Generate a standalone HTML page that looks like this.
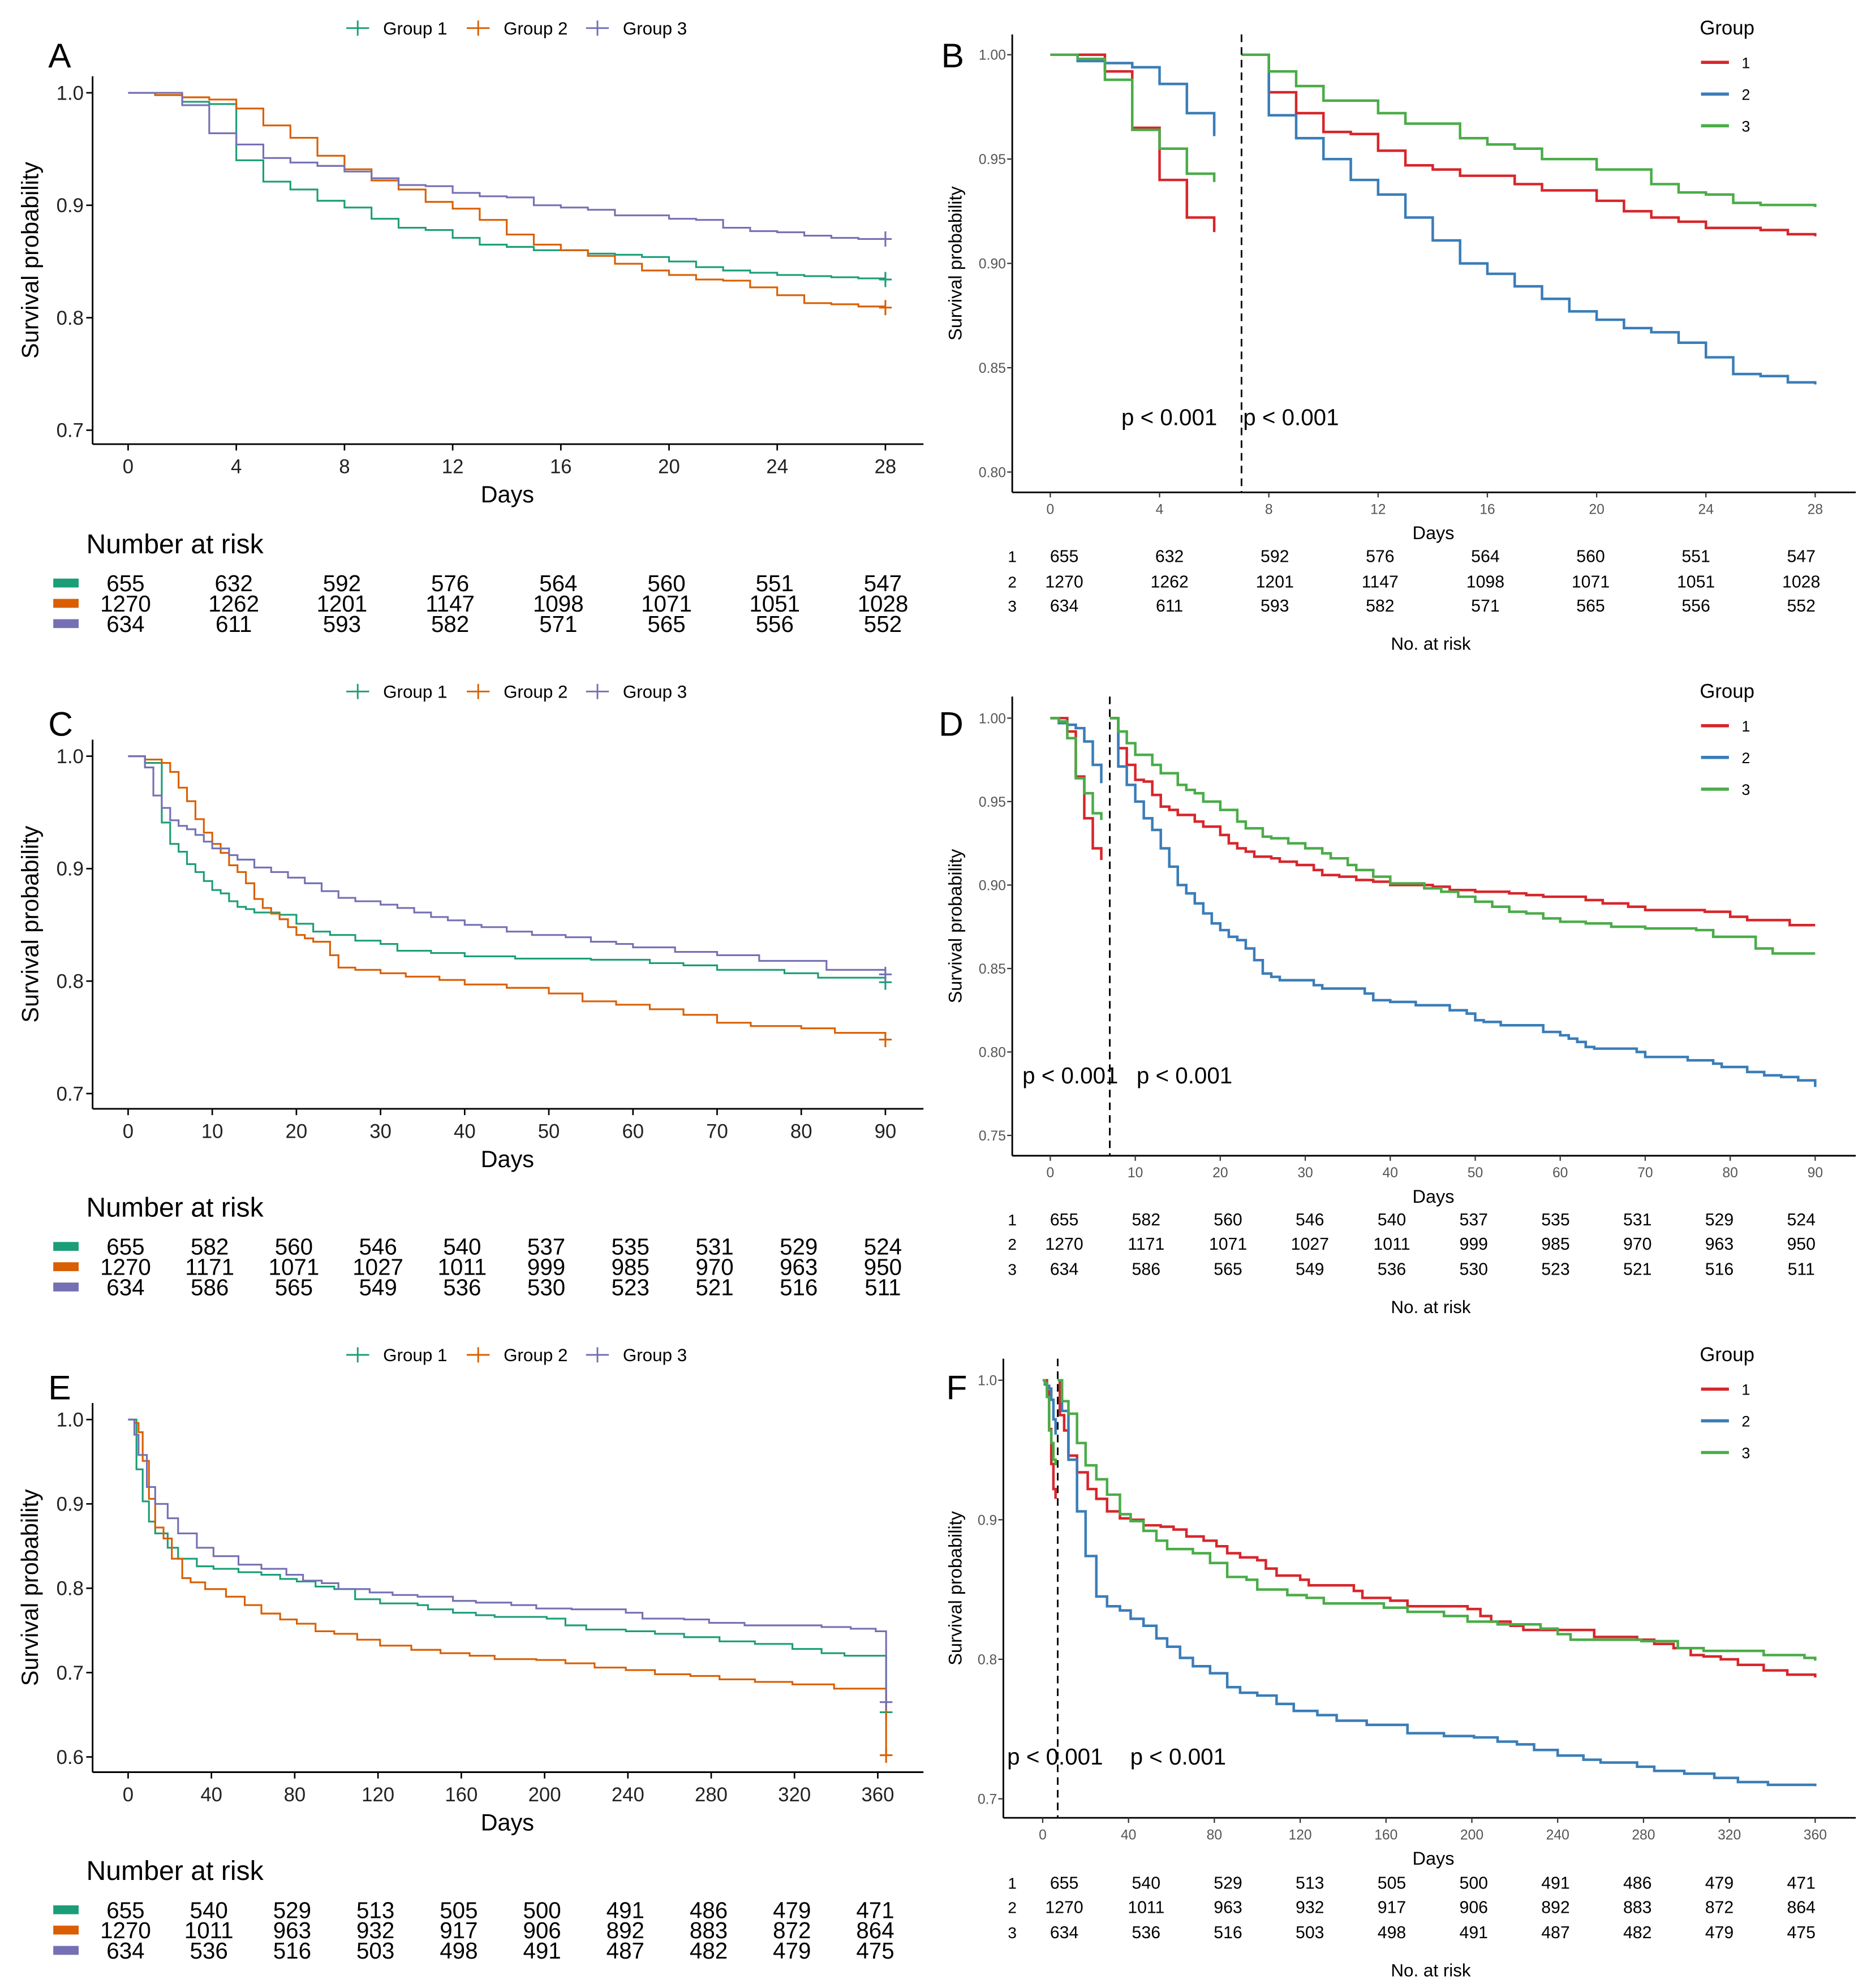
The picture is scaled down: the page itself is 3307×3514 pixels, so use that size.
<!DOCTYPE html>
<html><head><meta charset="utf-8">
<style>
html,body{margin:0;padding:0;background:#fff;}
svg{display:block;font-family:"Liberation Sans",Arial,sans-serif;}
</style></head>
<body>
<svg id="fig" xmlns="http://www.w3.org/2000/svg" width="3307" height="3514" viewBox="0 0 1475 1567"></svg>
<script>
// ===== Panel A data (28-day, groups 1-3) =====
const aTimes=[0,1,2,3,4,5,6,7,8,9,10,11,12,13,14,15,16,17,18,19,20,21,22,23,24,25,26,27,28];
const aG1=[1,0.998,0.992,0.990,0.940,0.921,0.914,0.904,0.898,0.888,0.880,0.878,0.871,0.865,0.863,0.860,0.860,0.857,0.856,0.854,0.850,0.845,0.842,0.840,0.838,0.837,0.836,0.835,0.834];
const aG2=[1,0.998,0.996,0.994,0.986,0.971,0.960,0.944,0.932,0.922,0.914,0.903,0.897,0.887,0.874,0.865,0.860,0.855,0.848,0.842,0.838,0.834,0.833,0.827,0.820,0.813,0.812,0.810,0.809];
const aG3=[1,1,0.989,0.964,0.954,0.942,0.938,0.935,0.930,0.924,0.918,0.917,0.911,0.908,0.907,0.900,0.898,0.896,0.891,0.891,0.888,0.887,0.880,0.877,0.876,0.873,0.871,0.870,0.870];
const aRisk1=[655,632,592,576,564,560,551,547];
const aRisk2=[1270,1262,1201,1147,1098,1071,1051,1028];
const aRisk3=[634,611,593,582,571,565,556,552];
const aTicks=[0,4,8,12,16,20,24,28];
const aYTicks=[0.7,0.8,0.9,1.0];

// ===== Landmark early segment (day 0-6), shared by B, D, F =====
const eTimes=[0,1,2,3,4,5,6];
const eG1=[1,1,0.992,0.965,0.940,0.922,0.915];
const eG2=[1,0.997,0.996,0.994,0.986,0.972,0.961];
const eG3=[1,0.998,0.988,0.964,0.955,0.943,0.939];

// ===== Panel B late segment (day 7-28) =====
const bTimes=[7,8,9,10,11,12,13,14,15,16,17,18,19,20,21,22,23,24,25,26,27,28];
const bG1=[1,0.982,0.972,0.963,0.962,0.954,0.947,0.945,0.942,0.942,0.938,0.935,0.935,0.930,0.925,0.922,0.920,0.917,0.917,0.916,0.914,0.913];
const bG2=[1,0.971,0.960,0.950,0.940,0.933,0.922,0.911,0.900,0.895,0.889,0.883,0.877,0.873,0.869,0.867,0.862,0.855,0.847,0.846,0.843,0.842];
const bG3=[1,0.992,0.985,0.978,0.978,0.972,0.967,0.967,0.960,0.957,0.955,0.950,0.950,0.945,0.945,0.938,0.934,0.933,0.929,0.928,0.928,0.927];
const bYTicks=[0.80,0.85,0.90,0.95,1.00];

// ===== Panel C data (90-day) =====
const cT1=[0,2,4,5,6,7,8,9,10,11,12,13,14,15,18,20,22,24,27,30,32,36,40,46,55,62,66,70,78,82,90];
const cG1=[1,0.994,0.941,0.922,0.915,0.904,0.897,0.889,0.881,0.878,0.871,0.866,0.864,0.861,0.859,0.851,0.844,0.841,0.836,0.833,0.827,0.825,0.822,0.820,0.819,0.816,0.814,0.810,0.807,0.803,0.799];
const cT2=[0,2,4,5,6,7,8,9,10,11,12,13,14,15,16,17,18,19,20,21,22,24,25,27,30,33,37,40,45,50,54,58,62,66,70,74,80,84,90];
const cG2=[1,0.997,0.994,0.986,0.972,0.960,0.944,0.932,0.922,0.914,0.903,0.897,0.887,0.873,0.865,0.860,0.855,0.848,0.841,0.838,0.835,0.823,0.812,0.810,0.807,0.804,0.801,0.797,0.794,0.789,0.782,0.779,0.775,0.770,0.763,0.760,0.758,0.754,0.748];
const cT3=[0,2,3,4,5,6,7,8,9,10,12,13,15,17,19,21,23,25,27,30,32,34,36,38,40,42,45,48,52,55,58,60,65,70,75,83,90];
const cG3=[1,0.990,0.965,0.954,0.943,0.938,0.935,0.930,0.924,0.918,0.912,0.908,0.901,0.897,0.892,0.887,0.880,0.874,0.871,0.868,0.865,0.861,0.857,0.854,0.850,0.848,0.844,0.841,0.839,0.835,0.833,0.830,0.826,0.823,0.818,0.810,0.806];
const cRisk1=[655,582,560,546,540,537,535,531,529,524];
const cRisk2=[1270,1171,1071,1027,1011,999,985,970,963,950];
const cRisk3=[634,586,565,549,536,530,523,521,516,511];
const cTicks=[0,10,20,30,40,50,60,70,80,90];

// ===== Panel D late segment (day 7-90) =====
const dT1=[7,8,9,10,11,12,13,14,15,17,18,20,21,22,23,24,26,27,29,31,32,34,36,38,40,45,47,50,54,56,58,63,65,68,70,77,80,82,87,90];
const dG1=[1,0.982,0.972,0.963,0.962,0.954,0.947,0.945,0.942,0.938,0.935,0.930,0.925,0.922,0.920,0.917,0.916,0.914,0.912,0.909,0.906,0.905,0.903,0.902,0.900,0.899,0.897,0.896,0.895,0.894,0.893,0.891,0.889,0.887,0.885,0.884,0.881,0.879,0.876,0.876];
const dT2=[7,8,9,10,11,12,13,14,15,16,17,18,19,20,21,22,23,24,25,26,27,31,32,37,38,40,43,47,49,50,51,53,58,60,61,62,63,64,69,70,75,78,79,82,84,86,88,90];
const dG2=[1,0.971,0.960,0.950,0.940,0.933,0.922,0.911,0.900,0.895,0.889,0.883,0.877,0.873,0.869,0.867,0.862,0.855,0.847,0.845,0.843,0.840,0.838,0.835,0.831,0.830,0.828,0.825,0.823,0.819,0.818,0.816,0.812,0.810,0.808,0.806,0.803,0.802,0.800,0.797,0.795,0.793,0.791,0.788,0.786,0.785,0.783,0.779];
const dT3=[7,8,9,10,12,13,15,16,17,18,20,22,23,25,26,28,30,32,33,35,36,38,40,44,46,48,50,52,54,56,58,60,63,66,70,76,78,83,85,90];
const dG3=[1,0.992,0.985,0.978,0.972,0.967,0.960,0.957,0.955,0.950,0.945,0.938,0.934,0.929,0.928,0.925,0.922,0.919,0.916,0.912,0.909,0.905,0.901,0.898,0.896,0.893,0.890,0.887,0.884,0.883,0.880,0.878,0.877,0.875,0.874,0.873,0.869,0.862,0.859,0.859];
const dYTicks=[0.75,0.80,0.85,0.90,0.95,1.00];

// ===== Panel E data (365-day) =====
const eeT1=[0,4,7,10,13,19,24,33,41,53,64,73,81,90,99,109,121,139,144,156,167,176,201,210,220,239,253,267,284,301,319,333,344,364];
const eeG1=[1,0.941,0.903,0.879,0.865,0.848,0.835,0.826,0.823,0.819,0.816,0.811,0.808,0.802,0.799,0.787,0.782,0.780,0.775,0.771,0.768,0.766,0.764,0.756,0.751,0.749,0.746,0.742,0.737,0.734,0.728,0.723,0.720,0.653];
const eeT2=[0,3,5,7,10,13,17,21,26,30,37,47,56,64,73,81,90,99,110,121,136,150,164,176,196,210,224,239,253,270,284,301,319,339,364];
const eeG2=[1,0.996,0.985,0.951,0.906,0.872,0.859,0.835,0.812,0.807,0.799,0.790,0.780,0.770,0.763,0.758,0.749,0.746,0.739,0.732,0.727,0.723,0.720,0.716,0.715,0.711,0.706,0.703,0.698,0.696,0.692,0.689,0.686,0.681,0.602];
const eeT3=[0,3,5,9,13,19,24,33,41,53,64,76,84,93,101,116,127,139,156,167,184,196,213,239,247,267,279,296,333,347,359,364];
const eeG3=[1,0.982,0.958,0.920,0.900,0.883,0.865,0.848,0.838,0.828,0.823,0.816,0.809,0.806,0.799,0.795,0.792,0.790,0.785,0.783,0.780,0.776,0.775,0.771,0.764,0.763,0.759,0.756,0.754,0.752,0.749,0.665];
const eeRisk1=[655,540,529,513,505,500,491,486,479,471];
const eeRisk2=[1270,1011,963,932,917,906,892,883,872,864];
const eeRisk3=[634,536,516,503,498,491,487,482,479,475];
const eeTicks=[0,40,80,120,160,200,240,280,320,360];
const eeYTicks=[0.6,0.7,0.8,0.9,1.0];

// ===== Panel F late segment (day 7-360) =====
const fT1=[7,8,10,12,16,21,25,30,36,41,47,55,61,67,75,81,86,92,100,104,109,120,124,145,149,162,170,198,204,209,218,224,257,277,285,294,302,308,316,324,336,347,360];
const fG1=[1,0.975,0.964,0.946,0.934,0.922,0.915,0.906,0.901,0.900,0.896,0.895,0.893,0.888,0.885,0.881,0.876,0.873,0.871,0.865,0.860,0.857,0.853,0.849,0.844,0.842,0.838,0.836,0.831,0.827,0.824,0.821,0.816,0.814,0.811,0.808,0.803,0.802,0.800,0.796,0.792,0.789,0.787];
const fT2=[7,9,12,16,20,25,30,36,41,47,53,58,64,70,78,86,92,100,109,117,128,137,151,170,187,201,212,221,229,240,252,260,277,285,299,313,324,338,360];
const fG2=[1,0.978,0.943,0.906,0.874,0.845,0.838,0.835,0.829,0.824,0.815,0.809,0.801,0.795,0.790,0.780,0.776,0.774,0.768,0.763,0.760,0.756,0.753,0.747,0.745,0.744,0.741,0.739,0.735,0.731,0.728,0.726,0.723,0.720,0.718,0.715,0.712,0.710,0.709];
const fT3=[7,9,12,16,20,25,30,36,41,47,53,58,70,78,86,95,100,114,123,131,159,170,187,198,212,232,240,246,279,296,308,336,355,360];
const fG3=[1,0.985,0.976,0.955,0.939,0.929,0.918,0.904,0.899,0.892,0.885,0.879,0.876,0.869,0.859,0.857,0.850,0.846,0.844,0.840,0.837,0.834,0.831,0.827,0.825,0.822,0.818,0.814,0.813,0.808,0.806,0.803,0.801,0.799];
const fYTicks=[0.7,0.8,0.9,1.0];

const rightTicks28=[0,4,8,12,16,20,24,28];
const rightTicks90=[0,10,20,30,40,50,60,70,80,90];
const rightTicks360=[0,40,80,120,160,200,240,280,320,360];
const groupLabels=["Group 1","Group 2","Group 3"];

const NS="http://www.w3.org/2000/svg";
const svg=document.getElementById("fig");
const LC=["#1b9e77","#d95f02","#7570b3"];
const RC=["#d7262b","#3a7db8","#4aac48"];

function mk(tag,attrs,parent){const e=document.createElementNS(NS,tag);for(const k in attrs)e.setAttribute(k,attrs[k]);(parent||svg).appendChild(e);return e;}
function txt(s,x,y,size,attrs,parent){const e=mk("text",Object.assign({x:x,y:y,"font-size":size,fill:"#000"},attrs||{}),parent);e.textContent=s;return e;}
function lin(d0,d1,r0,r1){return v=>r0+(v-d0)*(r1-r0)/(d1-d0);}
function stepPath(ts,vs,X,Y){let d="M"+X(ts[0]).toFixed(2)+" "+Y(vs[0]).toFixed(2);for(let i=1;i<ts.length;i++){d+=" H"+X(ts[i]).toFixed(2)+" V"+Y(vs[i]).toFixed(2);}return d;}

function axes(g,ax){
  const a=mk("line",{x1:ax.ax,y1:ax.top,x2:ax.ax,y2:ax.bot,stroke:"#000","stroke-width":1.3},g);
  
  
  const b=mk("line",{x1:ax.ax,y1:ax.bot,x2:ax.right,y2:ax.bot,stroke:"#000","stroke-width":1.3},g);
  
  
}

function leftPanel(o){
  const g=mk("g",{});
  
  
  const X=lin(0,o.xmax,101,o.xEnd), Y=lin(0.7,1.0,o.y07,o.y10);
  const Yv=lin(o.yLo,1.0,o.yLoPx,o.y10);
  axes(g,{ax:73,top:o.top,bot:o.bot,right:728});
  // legend
  for(let i=0;i<3;i++){
    const lx=[282,377,471][i], ly=o.legY;
    const lg=mk("g",{},g);
    
    
    mk("line",{x1:lx-9,y1:ly,x2:lx+9,y2:ly,stroke:LC[i],"stroke-width":1.3},lg);
    mk("line",{x1:lx,y1:ly-6,x2:lx,y2:ly+6,stroke:LC[i],"stroke-width":1.3},lg);
    txt(groupLabels[i],lx+20,ly+5,14,{},lg);
  }
  const L=txt(o.letter,38,o.letY,27,{},g);
  
  
  // y ticks
  o.yTicks.forEach(v=>{
    const y=Yv(v);
    mk("line",{x1:68,y1:y,x2:73,y2:y,stroke:"#000","stroke-width":1.2},g);
    const t=txt(v.toFixed(1),66,y+5.5,15.5,{"text-anchor":"end",fill:"#222"},g);
    
    
  });
  o.xTicks.forEach(v=>{
    const x=X(v);
    mk("line",{x1:x,y1:o.bot,x2:x,y2:o.bot+5,stroke:"#000","stroke-width":1.2},g);
    const t=txt(String(v),x,o.bot+23,15.5,{"text-anchor":"middle",fill:"#222"},g);
    
    
  });
  const xt=txt("Days",400,o.bot+46,18.5,{"text-anchor":"middle"},g);
  
  
  const cy=(o.top+o.bot)/2;
  const yt=txt("Survival probability",30,cy,18.5,{"text-anchor":"middle",transform:"rotate(-90 30 "+cy+")"},g);
  
  
  // curves
  o.series.forEach((s,i)=>{
    const p=mk("path",{d:stepPath(s.t,s.v,X,Yv),fill:"none",stroke:LC[i],"stroke-width":1.4},g);
    
    
    const ex=X(s.t[s.t.length-1]), ey=Yv(s.v[s.v.length-1]);
    const c=mk("path",{d:"M"+(ex-5)+" "+ey+" H"+(ex+5)+" M"+ex+" "+(ey-6)+" V"+(ey+6),stroke:LC[i],"stroke-width":1.4,fill:"none"},g);
    
    
  });
  // risk table
  const rt=txt("Number at risk",68,o.riskTitleY,21.5,{},g);
  
  
  o.risk.forEach((row,i)=>{
    const ry=o.riskY[i];
    const r=mk("rect",{x:42,y:ry-10,width:20,height:7,fill:LC[i]},g);
    
    
    row.forEach((n,j)=>{
      const t=txt(String(n),X(o.xTicks[j])-2,ry,18,{"text-anchor":"middle"},g);
      
      
    });
  });
}

function rightPanel(o){
  const g=mk("g",{});
  
  
  const X=lin(0,o.xmax,o.x0,1431), Y=lin(o.yLo,1.0,o.yLoPx,o.y10);
  axes(g,{ax:o.ax,top:o.top,bot:o.bot,right:1463});
  const L=txt(o.letter,o.letX,o.letY,27,{},g);
  
  
  o.yTicks.forEach(v=>{
    const y=Y(v);
    mk("line",{x1:o.ax-4,y1:y,x2:o.ax,y2:y,stroke:"#333","stroke-width":1},g);
    const t=txt(v.toFixed(o.dec),o.ax-5,y+4,11,{"text-anchor":"end",fill:"#555"},g);
    
    
  });
  o.xTicks.forEach(v=>{
    const x=X(v);
    mk("line",{x1:x,y1:o.bot,x2:x,y2:o.bot+4,stroke:"#333","stroke-width":1},g);
    const t=txt(String(v),x,o.bot+17,11,{"text-anchor":"middle",fill:"#555"},g);
    
    
  });
  const xt=txt("Days",1130,o.bot+37,14.5,{"text-anchor":"middle"},g);
  
  
  const cy=(o.top+o.bot)/2;
  const yt=txt("Survival probability",758,cy,14.5,{"text-anchor":"middle",transform:"rotate(-90 758 "+cy+")"},g);
  
  
  // legend
  const gt=txt("Group",1340,o.legY+5,15.5,{},g);
  
  
  for(let i=0;i<3;i++){
    const ly=o.legY+27+25*i;
    const lg=mk("g",{},g);
    
    
    mk("line",{x1:1341,y1:ly,x2:1363,y2:ly,stroke:RC[i],"stroke-width":2.5},lg);
    txt(String(i+1),1373,ly+4.5,12,{},lg);
  }
  // curves
  const early=[[eTimes,eG1],[eTimes,eG2],[eTimes,eG3]];
  for(let i=0;i<3;i++){
    const p=mk("path",{d:stepPath(early[i][0],early[i][1],X,Y),fill:"none",stroke:RC[i],"stroke-width":2},g);
    
    
  }
  o.late.forEach((s,i)=>{
    const p=mk("path",{d:stepPath(s.t,s.v,X,Y),fill:"none",stroke:RC[i],"stroke-width":2},g);
    
    
  });
  const dl=mk("line",{x1:X(7),y1:o.top,x2:X(7),y2:o.bot,stroke:"#000","stroke-width":1.3,"stroke-dasharray":"6,4"},g);
  
  
  o.pX.forEach(px=>{
    const t=txt("p < 0.001",px,o.pY,18,{},g);
    
    
  });
  // risk table
  const risks=o.risk;
  const n=risks[0].length;
  risks.forEach((row,i)=>{
    const ry=o.riskY[i];
    const rl=txt(String(i+1),798,ry,12.5,{"text-anchor":"middle"},g);
    
    
    row.forEach((v,j)=>{
      const t=txt(String(v),839+j*(1420-839)/(n-1),ry,13.5,{"text-anchor":"middle"},g);
      
      
    });
  });
  const nr=txt("No. at risk",1128,o.riskY[2]+30,14,{"text-anchor":"middle"},g);
  
  
}

leftPanel({letter:"A",letY:53,legY:22,top:60,bot:350,xmax:28,xEnd:698,y07:339,y10:73,yLo:0.7,yLoPx:339,
  yTicks:aYTicks,xTicks:aTicks,
  series:[{t:aTimes,v:aG1},{t:aTimes,v:aG2},{t:aTimes,v:aG3}],
  risk:[aRisk1,aRisk2,aRisk3],riskTitleY:436,riskY:[466,482,498]});
leftPanel({letter:"C",letY:580,legY:545,top:583,bot:874,xmax:90,xEnd:698,y07:862,y10:596,yLo:0.7,yLoPx:862,
  yTicks:aYTicks,xTicks:cTicks,
  series:[{t:cT1,v:cG1},{t:cT2,v:cG2},{t:cT3,v:cG3}],
  risk:[cRisk1,cRisk2,cRisk3],riskTitleY:959,riskY:[989,1005,1021]});
leftPanel({letter:"E",letY:1103,legY:1068,top:1106,bot:1397,xmax:360,xEnd:692,y07:1318,y10:1119,yLo:0.6,yLoPx:1385,
  yTicks:eeYTicks,xTicks:eeTicks,
  series:[{t:eeT1,v:eeG1},{t:eeT2,v:eeG2},{t:eeT3,v:eeG3}],
  risk:[eeRisk1,eeRisk2,eeRisk3],riskTitleY:1482,riskY:[1512,1528,1544]});

rightPanel({letter:"B",letX:742,letY:53,ax:798,top:27,bot:388,xmax:28,x0:828,yLo:0.80,yLoPx:372,y10:43,dec:2,
  yTicks:bYTicks,xTicks:rightTicks28,legY:22,
  late:[{t:bTimes,v:bG1},{t:bTimes,v:bG2},{t:bTimes,v:bG3}],
  pX:[884,980],pY:335,risk:[aRisk1,aRisk2,aRisk3],riskY:[443,463,482]});
rightPanel({letter:"D",letX:740,letY:580,ax:798,top:549,bot:911,xmax:90,x0:828,yLo:0.75,yLoPx:895,y10:566,dec:2,
  yTicks:dYTicks,xTicks:rightTicks90,legY:545,
  late:[{t:dT1,v:dG1},{t:dT2,v:dG2},{t:dT3,v:dG3}],
  pX:[806,896],pY:854,risk:[cRisk1,cRisk2,cRisk3],riskY:[966,985,1005]});
rightPanel({letter:"F",letX:746,letY:1103,ax:791,top:1071,bot:1433,xmax:360,x0:822,yLo:0.7,yLoPx:1418,y10:1088,dec:1,
  yTicks:fYTicks,xTicks:rightTicks360,legY:1068,
  late:[{t:fT1,v:fG1},{t:fT2,v:fG2},{t:fT3,v:fG3}],
  pX:[794,891],pY:1391,risk:[eeRisk1,eeRisk2,eeRisk3],riskY:[1489,1508,1528]});
</script>
</body></html>
